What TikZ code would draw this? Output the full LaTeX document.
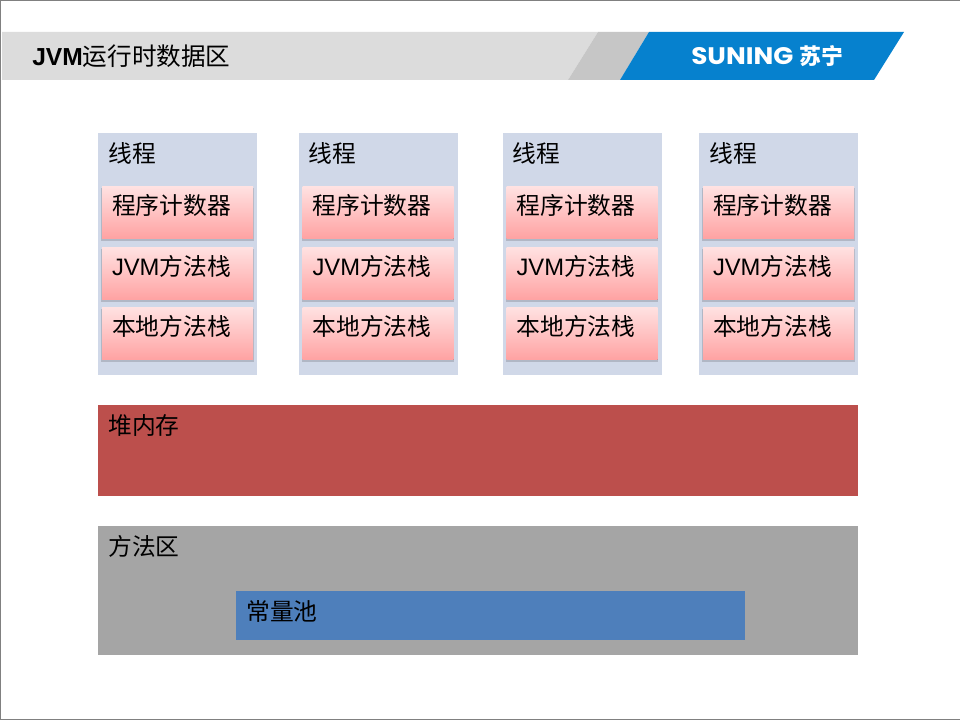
\documentclass[tikz,border=0pt]{standalone}
\usepackage{fontspec}
\usepackage{tikz}
\usetikzlibrary{shadows}
\setmainfont{Liberation Sans}
\newfontfamily\cjk{Noto Sans CJK SC}
\newfontfamily\logofont{Poppins}
\definecolor{bandgray}{HTML}{DCDCDC}
\definecolor{bandmid}{HTML}{C6C6C6}
\definecolor{suningblue}{HTML}{0681CE}
\definecolor{threadblue}{HTML}{D0D8E8}
\definecolor{heapred}{HTML}{BC4F4C}
\definecolor{methodgray}{HTML}{A5A5A5}
\definecolor{poolblue}{HTML}{4E7FBB}
\definecolor{pinktop}{HTML}{FFE2E2}
\definecolor{pinkbot}{HTML}{FFA3A3}

\begin{document}
\begin{tikzpicture}[
  x=0.025cm, y=-0.025cm,
  every node/.style={font=\fontsize{16.9}{20}\selectfont, text=black},
  area/.style={anchor=north west, inner sep=0pt, outer sep=0pt},
  thread/.style={area, minimum width=3.975cm, minimum height=6.05cm, fill=threadblue},
  stackbox/.style={text width=3.275cm, align=left, inner xsep=0.25cm, inner ysep=0pt, text height=0.7cm, text depth=0.6cm, top color=pinktop, bottom color=pinkbot,
    drop shadow={shadow xshift=0pt, shadow yshift=-0.8pt, fill=black, opacity=0.3},
    drop shadow={shadow xshift=0pt, shadow yshift=-1.8pt, shadow scale=1.01, fill=black, opacity=0.15}},
  tag/.style={anchor=north west, inner sep=0pt, xshift=0.25cm, yshift=-0.225cm}
]
\useasboundingbox (0,0) rectangle (960,720);
\fill[white] (0,0) rectangle (960,720);
\draw[gray, line width=1.4pt] (960,720) -- (0,720) -- (0,0) -- (960,0);

% header band
\fill[bandgray] (2,32) -- (598,32) -- (568,80) -- (2,80) -- cycle;
\fill[bandmid] (598,32) -- (649,32) -- (620,80) -- (568,80) -- cycle;
\fill[suningblue] (649,32) -- (904,32) -- (874,80) -- (620,80) -- cycle;
\node[anchor=west, inner sep=0pt] (title) at (32,56.5) {\fontsize{17.5}{20}\selectfont\textbf{JVM}{\cjk 运行时数据区}};
\node[anchor=west, inner sep=0pt, text=white] (logo) at (691,56.5) {\scalebox{1.1}[1]{\fontsize{17}{18}\selectfont\logofont\bfseries SUNING}};
\node[anchor=west, inner sep=0pt, text=white] (logocn) at (799,56.5) {\fontsize{15.6}{18}\selectfont\cjk\bfseries 苏宁};

% threads
\node[thread] (t1) at (98,133) {};
\node[tag] (t1label) at (t1.north west) {\cjk 线程};
\node[stackbox, yshift=1.05cm] (t1pc) at (t1.center) {\cjk 程序计数器};
\node[stackbox, yshift=-0.475cm] (t1jvm) at (t1.center) {JVM{\cjk 方法栈}};
\node[stackbox, yshift=-1.975cm] (t1nat) at (t1.center) {\cjk 本地方法栈};

\node[thread] (t2) at (298.6,133) {};
\node[tag] (t2label) at (t2.north west) {\cjk 线程};
\node[stackbox, yshift=1.05cm] (t2pc) at (t2.center) {\cjk 程序计数器};
\node[stackbox, yshift=-0.475cm] (t2jvm) at (t2.center) {JVM{\cjk 方法栈}};
\node[stackbox, yshift=-1.975cm] (t2nat) at (t2.center) {\cjk 本地方法栈};

\node[thread] (t3) at (502.6,133) {};
\node[tag] (t3label) at (t3.north west) {\cjk 线程};
\node[stackbox, yshift=1.05cm] (t3pc) at (t3.center) {\cjk 程序计数器};
\node[stackbox, yshift=-0.475cm] (t3jvm) at (t3.center) {JVM{\cjk 方法栈}};
\node[stackbox, yshift=-1.975cm] (t3nat) at (t3.center) {\cjk 本地方法栈};

\node[thread] (t4) at (699,133) {};
\node[tag] (t4label) at (t4.north west) {\cjk 线程};
\node[stackbox, yshift=1.05cm] (t4pc) at (t4.center) {\cjk 程序计数器};
\node[stackbox, yshift=-0.475cm] (t4jvm) at (t4.center) {JVM{\cjk 方法栈}};
\node[stackbox, yshift=-1.975cm] (t4nat) at (t4.center) {\cjk 本地方法栈};

% heap and method area
\node[area, minimum width=19cm, minimum height=2.275cm, fill=heapred] (heap) at (98,405) {};
\node[tag] (heaplabel) at (heap.north west) {\cjk 堆内存};
\node[area, minimum width=19cm, minimum height=3.225cm, fill=methodgray] (method) at (98,526) {};
\node[tag] (methodlabel) at (method.north west) {\cjk 方法区};
\node[area, minimum width=12.725cm, minimum height=1.225cm, fill=poolblue] (pool) at (236,591) {};
\node[tag] (poollabel) at (pool.north west) {\cjk 常量池};
\end{tikzpicture}
\end{document}
